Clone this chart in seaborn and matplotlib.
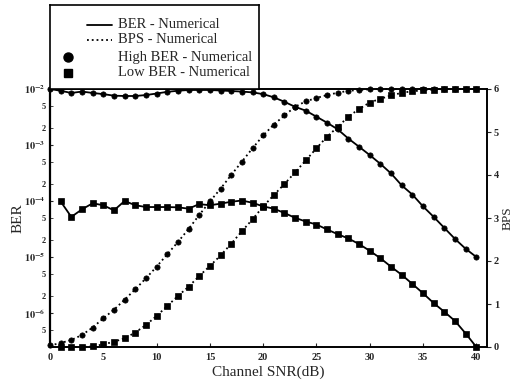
import matplotlib
matplotlib.use("Agg")
import matplotlib.pyplot as plt
import seaborn as sns
import numpy as np
from matplotlib.ticker import FuncFormatter, LogLocator, NullLocator
from matplotlib.font_manager import FontProperties
from matplotlib.lines import Line2D

# Channel SNR grid (dB)
snr_high = list(range(0, 41))
snr_low = list(range(1, 41))

# Bit error rate, high-BER operating mode
ber_high = [1.0e-2, 9.3e-3, 8.5e-3, 9.0e-3, 8.5e-3, 8.1e-3, 7.6e-3, 7.5e-3, 7.5e-3, 7.8e-3,
            8.3e-3, 8.9e-3, 9.3e-3, 9.6e-3, 9.6e-3, 9.6e-3, 9.4e-3, 9.2e-3, 9.0e-3, 8.7e-3,
            8.1e-3, 7.1e-3, 5.9e-3, 4.8e-3, 4.1e-3, 3.2e-3, 2.5e-3, 1.9e-3, 1.3e-3, 9.3e-4,
            6.6e-4, 4.6e-4, 3.1e-4, 1.9e-4, 1.3e-4, 8.0e-5, 5.2e-5, 3.3e-5, 2.1e-5, 1.4e-5,
            1.0e-5]

# Bit error rate, low-BER operating mode
ber_low = [9.8e-5, 5.2e-5, 7.1e-5, 9.1e-5, 8.4e-5, 6.8e-5, 1.0e-4, 8.4e-5, 7.8e-5, 7.8e-5,
           7.8e-5, 7.7e-5, 7.3e-5, 8.8e-5, 8.4e-5, 8.95e-5, 9.7e-5, 1.02e-4, 9.3e-5, 8.0e-5,
           7.3e-5, 6.1e-5, 5.0e-5, 4.3e-5, 3.8e-5, 3.1e-5, 2.55e-5, 2.14e-5, 1.7e-5, 1.29e-5,
           9.5e-6, 6.7e-6, 4.8e-6, 3.3e-6, 2.25e-6, 1.5e-6, 1.05e-6, 7.2e-7, 4.3e-7, 2.47e-7]

# Bits per symbol, high-BER operating mode
bps_high = [0.035, 0.093, 0.163, 0.279, 0.453, 0.667, 0.867, 1.10, 1.342, 1.598,
            1.867, 2.156, 2.442, 2.744, 3.07, 3.384, 3.681, 4.0, 4.309, 4.621,
            4.919, 5.174, 5.384, 5.588, 5.714, 5.791, 5.86, 5.914, 5.958, 5.977,
            5.993, 6.0, 6.0, 6.0, 6.0, 6.0, 6.0, 6.0, 6.0, 6.0,
            6.0]

# Bits per symbol, low-BER operating mode
bps_low = [0.0, 0.0, 0.003, 0.012, 0.063, 0.121, 0.202, 0.337, 0.512, 0.721,
           0.953, 1.186, 1.402, 1.651, 1.884, 2.128, 2.402, 2.691, 2.97, 3.267,
           3.535, 3.791, 4.063, 4.342, 4.621, 4.895, 5.116, 5.36, 5.535, 5.686,
           5.772, 5.849, 5.912, 5.947, 5.97, 5.988, 6.0, 6.0, 6.0, 6.0]

legend_labels = ["BER - Numerical", "BPS - Numerical",
                 "High BER - Numerical", "Low BER - Numerical"]

sns.set_style("ticks")
plt.rcParams["font.family"] = ["Liberation Serif", "DejaVu Serif"]
plt.rcParams["mathtext.fontset"] = "stix"

W, H = 513, 381
fig = plt.figure(figsize=(W / 100, H / 100), dpi=100)
ax = fig.add_axes([50 / W, 1 - 347 / H, 437 / W, 258 / H])
ax2 = ax.twinx()

line_kw = dict(color="black", lw=1.3, mec="black", mew=0.5, ms=3.8, clip_on=False)

# BER curves (left, logarithmic axis)
sns.lineplot(x=snr_high, y=ber_high, ax=ax, marker="o", ls="-", **line_kw)
sns.lineplot(x=snr_low, y=ber_low, ax=ax, marker="s", ls="-", **line_kw)

# BPS curves (right, linear axis)
sns.lineplot(x=snr_high, y=bps_high, ax=ax2, marker="o", ls=":", **line_kw)
sns.lineplot(x=snr_low, y=bps_low, ax=ax2, marker="s", ls=":", **line_kw)

ax.set_yscale("log")
ax.set_ylim(2.47e-7, 1e-2)
ax.set_xlim(0, 41)
ax2.set_ylim(0, 6)

tick_font = FontProperties(family="Liberation Serif", weight="bold", size=7.5)

ax.set_xticks(range(0, 41, 5))
for lab in ax.get_xticklabels():
    lab.set_fontproperties(tick_font)

ax.yaxis.set_major_locator(LogLocator(base=10, numticks=10))
ax.yaxis.set_major_formatter(FuncFormatter(
    lambda v, p: r"$\mathbf{10^{%d}}$" % int(round(np.log10(v)))))
ax.yaxis.set_minor_locator(LogLocator(base=10, subs=(2.0, 5.0), numticks=20))
ax.yaxis.set_minor_formatter(FuncFormatter(
    lambda v, p: "%d" % int(round(v / 10 ** np.floor(np.log10(v) + 1e-9)))))
ax.tick_params(axis="y", which="major", labelsize=7.5, length=2, direction="in", pad=3)
ax.tick_params(axis="y", which="minor", labelsize=6, length=2, direction="in", pad=3)
for lab in ax.get_yticklabels(minor=True):
    lab.set_fontweight("bold")
ax.tick_params(axis="x", length=3, direction="in", pad=4)

ax2.set_yticks(range(0, 7))
ax2.tick_params(axis="y", length=3, direction="out", pad=2)
for lab in ax2.get_yticklabels():
    lab.set_fontproperties(tick_font)
ax2.yaxis.set_minor_locator(NullLocator())

for a in (ax, ax2):
    for s in a.spines.values():
        s.set_visible(True)
        s.set_linewidth(1.2)
        s.set_color("black")
ax.spines["left"].set_linewidth(1.6)

ax.set_xlabel("Channel SNR(dB)", fontsize=11, labelpad=3)
ax.set_ylabel("BER", fontsize=11)
ax2.set_ylabel("BPS", fontsize=9.5)
ax.yaxis.set_label_coords(-25 / 437, 0.5)
ax2.yaxis.set_label_coords(1 + 15 / 437, 0.5)

# Legend box sitting on top of the plot frame
lg = fig.add_axes([50 / W, 1 - 89 / H, 209 / W, 84 / H])
lg.set_xlim(0, 209)
lg.set_ylim(84, 0)
lg.set_xticks([])
lg.set_yticks([])
for s in lg.spines.values():
    s.set_linewidth(1.2)
    s.set_color("black")
rows = [20, 35, 52, 68]
lg.add_line(Line2D([37, 62], [rows[0], rows[0]], color="black", lw=1.3))
lg.add_line(Line2D([37, 62], [rows[1], rows[1]], color="black", lw=1.3, ls=":"))
lg.add_line(Line2D([18], [rows[2]], color="black", marker="o", ms=6.5, ls="none"))
lg.add_line(Line2D([18], [rows[3]], color="black", marker="s", ms=6.0, ls="none"))
for r, t in zip(rows, legend_labels):
    lg.text(68, r, t, fontsize=10.5, va="center", ha="left")

fig.savefig("out.png", dpi=100)
